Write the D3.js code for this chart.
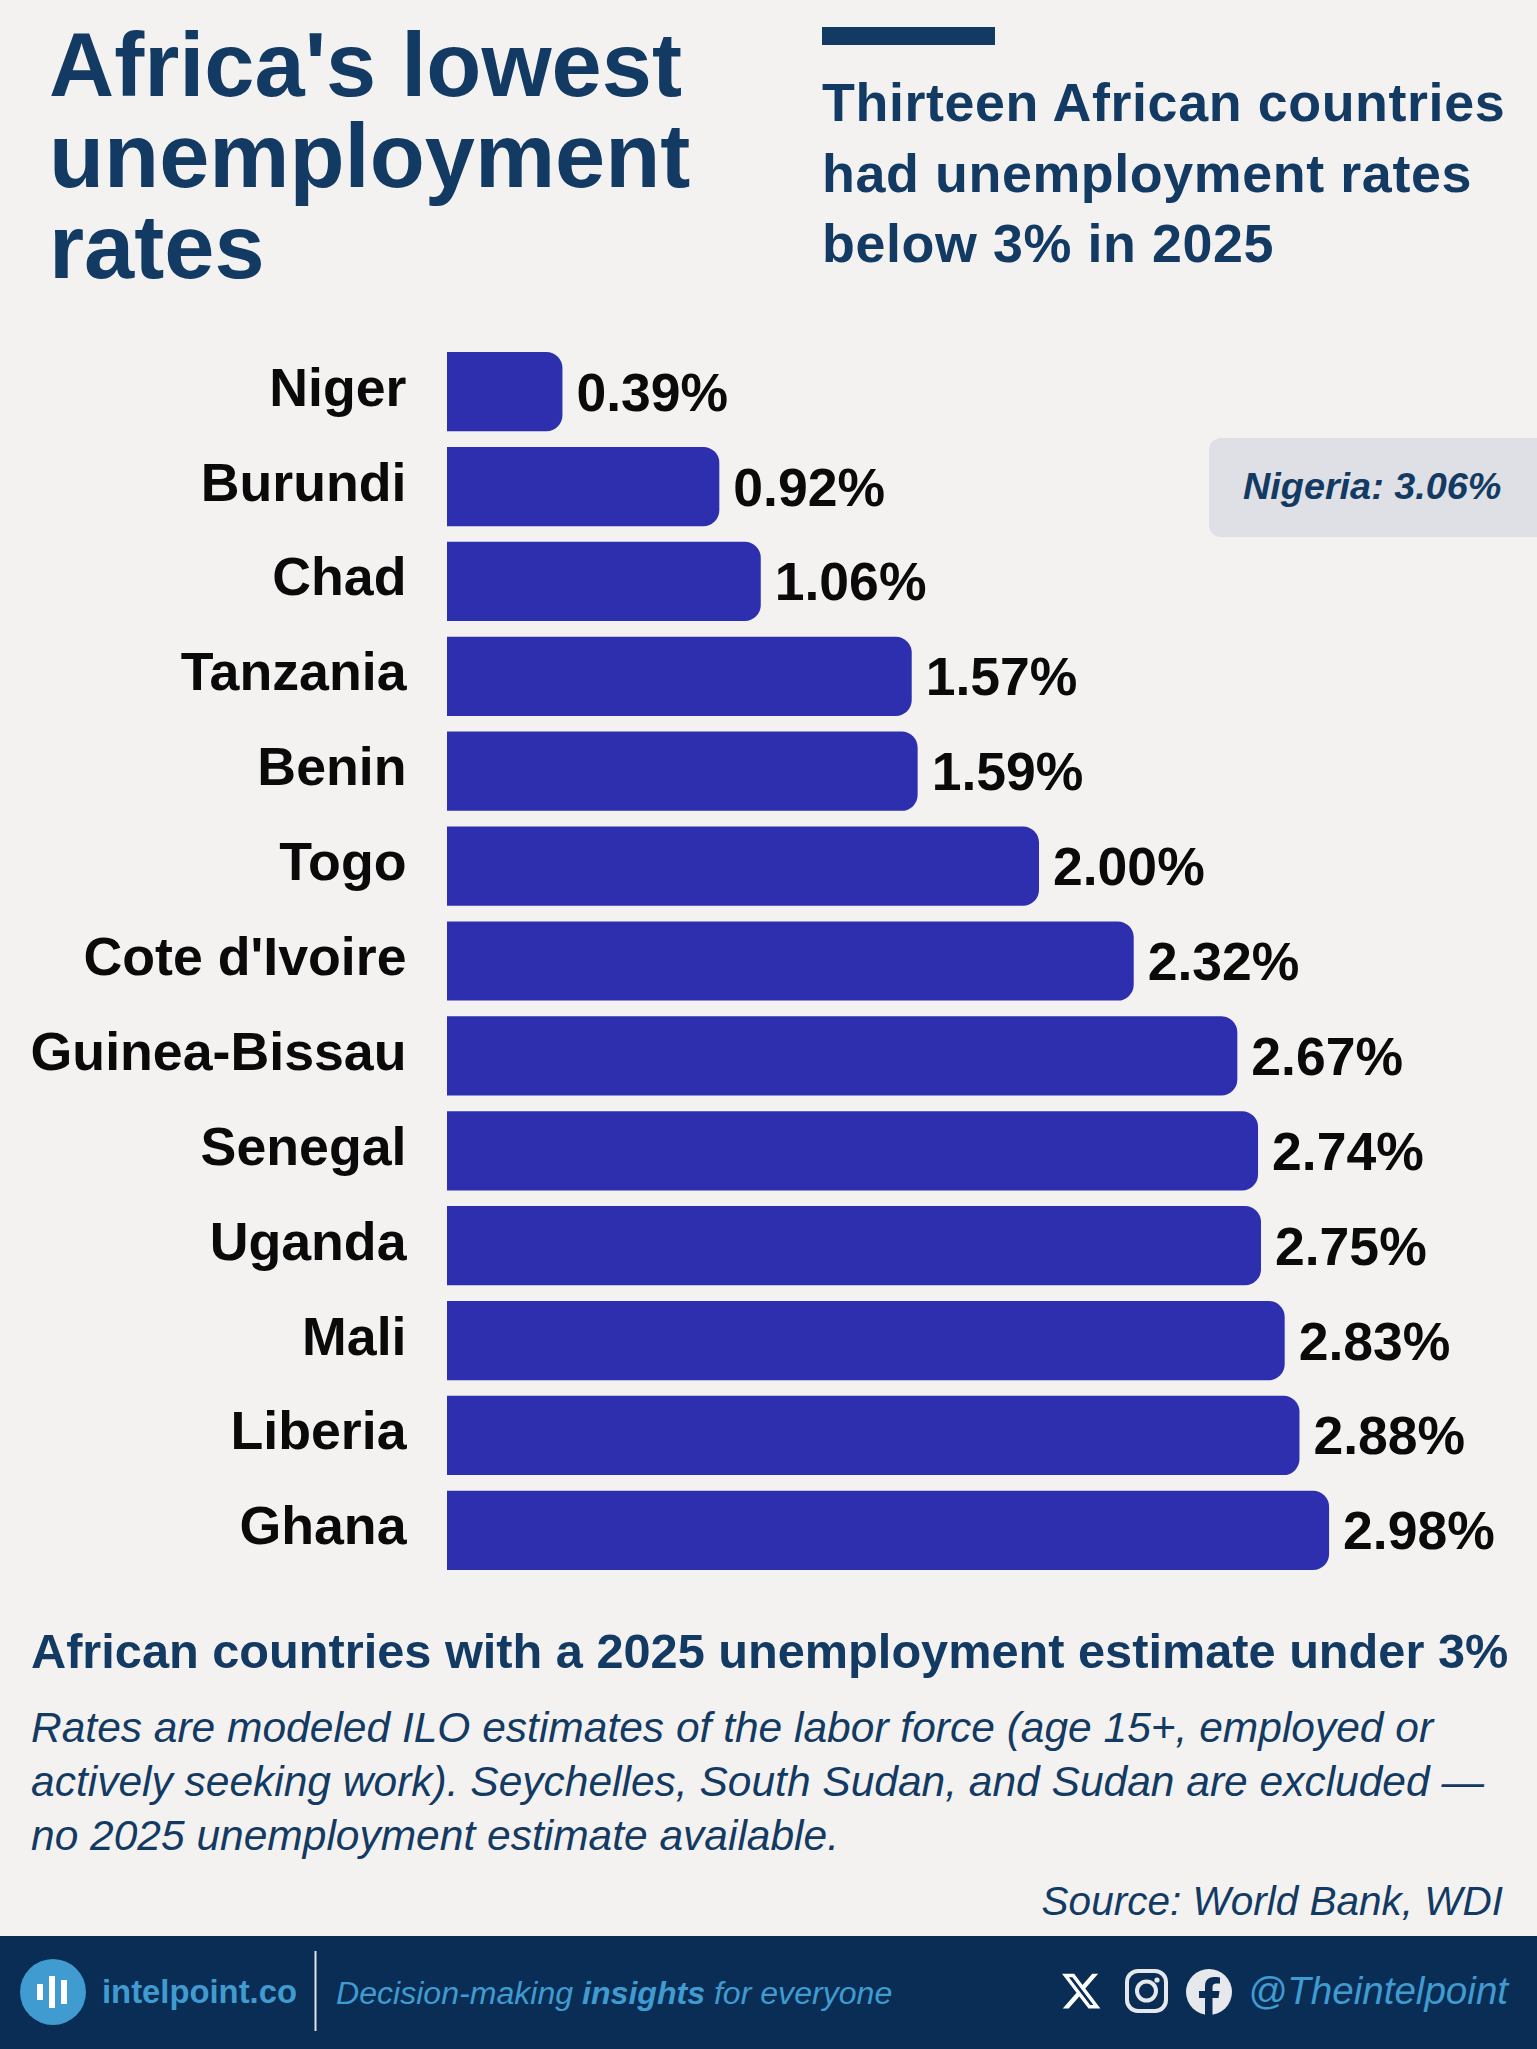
<!DOCTYPE html>
<html>
<head>
<meta charset="utf-8">
<script src="https://cdn.jsdelivr.net/npm/d3@7"></script>
<style>
html, body { margin: 0; padding: 0; background: #f4f2f1; }
svg { display: block; font-family: "Liberation Sans", Arial, sans-serif; }
</style>
</head>
<body>
<div id="chart"></div>
<script>
const countries = ['Niger','Burundi','Chad','Tanzania','Benin','Togo',"Cote d'Ivoire",'Guinea-Bissau','Senegal','Uganda','Mali','Liberia','Ghana']
const rates = [0.39,0.92,1.06,1.57,1.59,2.00,2.32,2.67,2.74,2.75,2.83,2.88,2.98]
const titleLines = ["Africa's lowest",'unemployment','rates']
const subtitleLines = ['Thirteen African countries','had unemployment rates','below 3% in 2025']
const noteLines = ['Rates are modeled ILO estimates of the labor force (age 15+, employed or',
                   'actively seeking work). Seychelles, South Sudan, and Sudan are excluded —',
                   'no 2025 unemployment estimate available.']

const w = 1537, h = 2049
const navy = '#123a63', barColor = '#2d2fae', footerBg = '#0a2d55', footerBlue = '#3f9bd0'

const svg = d3.select('#chart').append('svg').attr('width', w).attr('height', h)
svg.append('rect').attr('width', w).attr('height', h).attr('fill', '#f4f2f1')

// header
svg.selectAll('.title').data(titleLines).enter().append('text')
    .attr('class','title')
    .attr('x', 49)
    .attr('y', (d,i) => 96 + i*91)
    .attr('font-size', 90.2)
    .attr('font-weight', 700)
    .attr('fill', navy)
    .text(d => d)

svg.append('rect').attr('x', 822).attr('y', 27).attr('width', 173).attr('height', 18).attr('fill', navy)

svg.selectAll('.subtitle').data(subtitleLines).enter().append('text')
    .attr('class','subtitle')
    .attr('x', 822)
    .attr('y', (d,i) => 121 + i*70.5)
    .attr('font-size', 53.8)
    .attr('font-weight', 700)
    .attr('letter-spacing', 0.6)
    .attr('fill', navy)
    .text(d => d)

// bars
const x = d3.scaleLinear().domain([0, 3]).range([447, 1335])
const y = d3.scaleBand().domain(countries).range([352, 1570]).paddingInner(0.165).paddingOuter(0)

const barPath = (d,i) => {
    const x1 = x(rates[i]), y0 = y(d), y1 = y0 + y.bandwidth(), r = 16
    const p = d3.path()
    p.moveTo(x(0), y0)
    p.lineTo(x1 - r, y0)
    p.arcTo(x1, y0, x1, y0 + r, r)
    p.lineTo(x1, y1 - r)
    p.arcTo(x1, y1, x1 - r, y1, r)
    p.lineTo(x(0), y1)
    p.closePath()
    return p.toString()
}

svg.selectAll('.bar').data(countries).enter().append('path')
    .attr('class','bar')
    .attr('d', barPath)
    .attr('fill', barColor)

svg.selectAll('.country').data(countries).enter().append('text')
    .attr('class','country')
    .attr('x', 406.5)
    .attr('y', d => y(d) + y.bandwidth()/2 + 14)
    .attr('text-anchor','end')
    .attr('font-size', 53.7)
    .attr('font-weight', 700)
    .attr('fill', '#0a0a0a')
    .text(d => d)

svg.selectAll('.value').data(rates).enter().append('text')
    .attr('class','value')
    .attr('x', d => x(d) + 14)
    .attr('y', (d,i) => y(countries[i]) + y.bandwidth()/2 + 19)
    .attr('font-size', 53.5)
    .attr('font-weight', 700)
    .attr('fill', '#0a0a0a')
    .text(d => d.toFixed(2) + '%')

// Nigeria callout, runs off the right edge
svg.append('rect').attr('x', 1209).attr('y', 438).attr('width', 360).attr('height', 99).attr('rx', 12).attr('fill', '#dfe0e5')
svg.append('text').attr('x', 1243).attr('y', 499)
    .attr('font-size', 37.8).attr('font-weight', 700).attr('font-style','italic').attr('fill', navy)
    .text('Nigeria: 3.06%')

// notes
svg.append('text').attr('x', 31).attr('y', 1667.5)
    .attr('font-size', 48.7).attr('font-weight', 700).attr('fill', navy)
    .text('African countries with a 2025 unemployment estimate under 3%')

svg.selectAll('.note').data(noteLines).enter().append('text')
    .attr('class','note')
    .attr('x', 31)
    .attr('y', (d,i) => 1742 + i*54)
    .attr('font-size', 42.5)
    .attr('font-style','italic')
    .attr('fill', navy)
    .text(d => d)

svg.append('text').attr('x', 1503).attr('y', 1915).attr('text-anchor','end')
    .attr('font-size', 40.5).attr('font-style','italic').attr('fill', navy)
    .text('Source: World Bank, WDI')

// footer
const footer = svg.append('g')
footer.append('rect').attr('y', 1936).attr('width', w).attr('height', h - 1936).attr('fill', footerBg)
footer.append('circle').attr('cx', 53).attr('cy', 1992).attr('r', 33).attr('fill', footerBlue)
const logoBars = [[40,16],[52,32],[64,24]]
footer.selectAll('.logobar').data(logoBars).enter().append('rect')
    .attr('x', d => d[0] - 3).attr('y', d => 1992 - d[1]/2)
    .attr('width', 6).attr('height', d => d[1]).attr('fill', '#fff')
footer.append('text').attr('x', 102).attr('y', 2003)
    .attr('font-size', 32.8).attr('font-weight', 700).attr('fill', footerBlue).text('intelpoint.co')
footer.append('rect').attr('x', 314.5).attr('y', 1951).attr('width', 2).attr('height', 80).attr('fill', '#dfe3e8')

const tag = footer.append('text').attr('x', 336).attr('y', 2004)
    .attr('font-size', 32.1).attr('font-style','italic').attr('fill', footerBlue)
tag.append('tspan').text('Decision-making ')
tag.append('tspan').attr('font-weight', 700).text('insights')
tag.append('tspan').text(' for everyone')

// social icons
footer.append('path')
    .attr('transform','translate(1062,1972) scale(1.6)')
    .attr('d','M18.901 1.153h3.68l-8.04 9.19L24 22.846h-7.406l-5.8-7.584-6.638 7.584H.474l8.6-9.83L0 1.154h7.594l5.243 6.932ZM17.61 20.644h2.039L6.486 3.24H4.298Z')
    .attr('fill','#fff')
footer.append('rect').attr('x', 1127).attr('y', 1971).attr('width', 39).attr('height', 40).attr('rx', 11)
    .attr('fill','none').attr('stroke','#e6e8ec').attr('stroke-width', 4)
footer.append('circle').attr('cx', 1146.5).attr('cy', 1991).attr('r', 9.5)
    .attr('fill','none').attr('stroke','#e6e8ec').attr('stroke-width', 4)
footer.append('circle').attr('cx', 1157).attr('cy', 1980).attr('r', 2.6).attr('fill','#e6e8ec')
footer.append('circle').attr('cx', 1209).attr('cy', 1992).attr('r', 23).attr('fill','#e6e8ec')
footer.append('path')
    .attr('d','M1205 2015 v-17 h-6 v-7 h6 v-5 c0 -6 4 -9 9 -9 c2 0 4 0 6 0.5 v6 h-3.5 c-3 0 -4 1.5 -4 4 v3.5 h7 l-1 7 h-6 v17 z')
    .attr('fill', footerBg)
footer.append('text').attr('x', 1248).attr('y', 2004)
    .attr('font-size', 38.6).attr('font-style','italic').attr('fill', footerBlue).text('@Theintelpoint')
</script>
</body>
</html>
